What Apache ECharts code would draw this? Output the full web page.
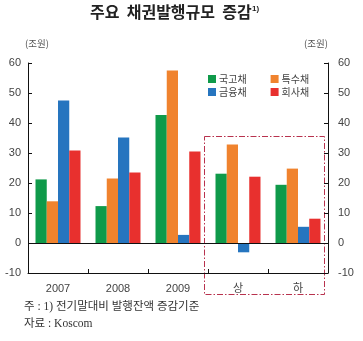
<!DOCTYPE html>
<html>
<head>
<meta charset="utf-8">
<script src="https://cdn.jsdelivr.net/npm/echarts@6/dist/echarts.min.js"></script>
<style>
  html, body { margin: 0; padding: 0; background: #fff; }
  #chart { width: 363px; height: 341px; }
</style>
</head>
<body>
<div id="chart"></div>
<script>
// Periods (2010 split into 상/하 halves)
const categories = ['2007', '2008', '2009', '상', '하'];

// Change in outstanding issuance vs. previous period-end (조원)
const govBonds     = [21.2, 12.3, 42.7, 23.1, 19.4];   // 국고채
const specialBonds = [13.9, 21.5, 57.5, 32.8, 24.8];   // 특수채
const finBonds     = [47.5, 35.2,  2.7, -3.1,  5.4];   // 금융채
const corpBonds    = [30.8, 23.5, 30.5, 22.1,  8.1];   // 회사채

const seriesNames = ['국고채', '특수채', '금융채', '회사채'];
const yTicks = { min: -10, max: 60, interval: 10 };

const colors = ['#0f9a4a', '#f0832e', '#2675bf', '#e8302e'];
const labelFont = '"Liberation Sans Narrow", "Liberation Sans", Arial, sans-serif';
const cjkFont = '"Noto Sans CJK KR", "Noto Sans", sans-serif';
const noteFont = '"Liberation Serif", ' + cjkFont;

const chart = echarts.init(document.getElementById('chart'), null, { renderer: 'canvas' });

function valueAxis(position, margin) {
  return {
    type: 'value',
    position: position,
    min: yTicks.min,
    max: yTicks.max,
    interval: yTicks.interval,
    alignTicks: false,
    axisLine: { show: true, lineStyle: { color: '#111', width: 1 } },
    axisTick: { show: true, inside: true, length: 4, lineStyle: { color: '#111' } },
    splitLine: { show: false },
    axisLabel: {
      color: '#444',
      fontSize: 11,
      fontFamily: labelFont,
      margin: margin
    }
  };
}

const dataSets = [govBonds, specialBonds, finBonds, corpBonds];

const series = dataSets.map((d, i) => ({
  name: seriesNames[i],
  type: 'bar',
  data: d,
  barGap: '0%',
  barCategoryGap: '25%',
  itemStyle: { color: colors[i] },
  silent: true
}));

// zero baseline across the plot
series[0].markLine = {
  silent: true,
  symbol: 'none',
  label: { show: false },
  lineStyle: { color: '#111', width: 1, type: 'solid' },
  data: [{ yAxis: 0 }]
};

const legendCommon = {
  orient: 'horizontal',
  itemWidth: 8,
  itemHeight: 8,
  itemGap: 24,
  icon: 'rect',
  selectedMode: false,
  textStyle: { fontSize: 10, color: '#444', fontFamily: cjkFont, padding: [0, 0, 0, -2] }
};

chart.setOption({
  animation: false,
  backgroundColor: '#fff',
  grid: { left: 28, right: 35, top: 63, bottom: 68, containLabel: false },
  legend: [
    Object.assign({ left: 203, top: 69, data: seriesNames.slice(0, 2) }, legendCommon),
    Object.assign({ left: 203, top: 82, data: seriesNames.slice(2, 4) }, legendCommon)
  ],
  xAxis: {
    type: 'category',
    data: categories,
    position: 'bottom',
    axisLine: { onZero: false, lineStyle: { color: '#111', width: 1 } },
    axisTick: { show: true, inside: true, length: 4, alignWithLabel: false, lineStyle: { color: '#111' } },
    axisLabel: { color: '#444', fontSize: 11, fontFamily: labelFont + ', ' + cjkFont, margin: 10 }
  },
  yAxis: [valueAxis('left', 7), valueAxis('right', 10)],
  series: series,
  graphic: [
    {
      type: 'text', left: 90, top: 4,
      style: { text: '주요  채권발행규모  증감', fontSize: 16, fontWeight: 'bold', fill: '#222', fontFamily: cjkFont }
    },
    {
      type: 'text', left: 252, top: 5,
      style: { text: '1)', fontSize: 8, fontWeight: 'bold', fill: '#222', fontFamily: labelFont }
    },
    {
      type: 'text', left: 25, top: 39,
      style: { text: '(조원)', fontSize: 9.5, fill: '#555', fontFamily: cjkFont }
    },
    {
      type: 'text', left: 304, top: 39,
      style: { text: '(조원)', fontSize: 9.5, fill: '#555', fontFamily: cjkFont }
    },
    {
      type: 'rect',
      shape: { x: 204.5, y: 136.5, width: 120, height: 158 },
      style: { fill: 'none', stroke: '#b8324e', lineWidth: 1, lineDash: [6, 2, 1.5, 2] },
      silent: true
    },
    {
      type: 'text', left: 24, top: 301,
      style: { text: '주 : 1) 전기말대비 발행잔액 증감기준', fontSize: 11.5, fill: '#333', fontFamily: noteFont }
    },
    {
      type: 'text', left: 24, top: 318,
      style: { text: '자료 : Koscom', fontSize: 11.5, fill: '#333', fontFamily: noteFont }
    }
  ]
});
</script>
</body>
</html>
